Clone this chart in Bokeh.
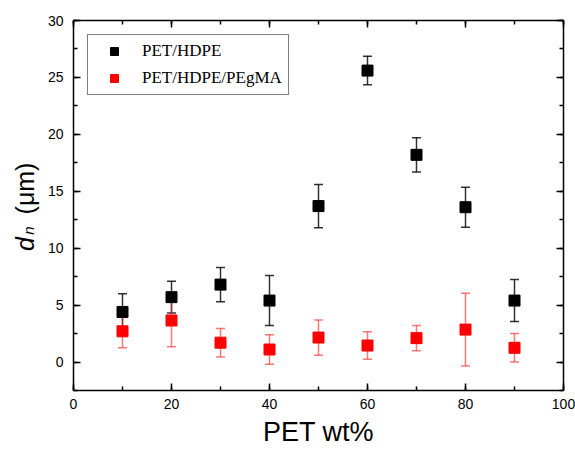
import math
from bokeh.plotting import figure
from bokeh.layouts import row
from bokeh.models import (ColumnDataSource, Whisker, TeeHead, LinearAxis,
                          SingleIntervalTicker, Range1d, CustomJSTickFormatter)
from bokeh.embed import file_html
from bokeh.resources import INLINE
from bokeh.core.properties import value

# ---- data ----
pet_wt = [10, 20, 30, 40, 50, 60, 70, 80, 90]
dn_pet_hdpe = [4.4, 5.7, 6.8, 5.4, 13.7, 25.6, 18.2, 13.6, 5.4]
err_pet_hdpe = [1.6, 1.4, 1.5, 2.2, 1.9, 1.25, 1.5, 1.75, 1.85]
dn_pet_hdpe_pegma = [2.7, 3.65, 1.7, 1.1, 2.15, 1.45, 2.1, 2.85, 1.25]
err_pet_hdpe_pegma = [1.45, 2.3, 1.25, 1.3, 1.55, 1.2, 1.1, 3.2, 1.25]
series_names = ["PET/HDPE", "PET/HDPE/PEgMA"]
x_title = "PET wt%"

src_b = ColumnDataSource(dict(x=pet_wt, y=dn_pet_hdpe,
                              upper=[v + e for v, e in zip(dn_pet_hdpe, err_pet_hdpe)],
                              lower=[v - e for v, e in zip(dn_pet_hdpe, err_pet_hdpe)]))
src_r = ColumnDataSource(dict(x=pet_wt, y=dn_pet_hdpe_pegma,
                              upper=[v + e for v, e in zip(dn_pet_hdpe_pegma, err_pet_hdpe_pegma)],
                              lower=[v - e for v, e in zip(dn_pet_hdpe_pegma, err_pet_hdpe_pegma)]))

FONT = "Liberation Sans"
H = 450
YW = 40
TOP, BOTTOM = 20, 390   # frame edges (page px); row layout aligns the frames

# ---- narrow figure holding the rotated y-axis title (rich text) ----
yfig = figure(width=YW, height=H, output_backend="svg", toolbar_location=None,
              x_range=Range1d(0, YW), y_range=Range1d(H - BOTTOM, H - TOP),
              min_border_left=0, min_border_right=0,
              min_border_top=TOP, min_border_bottom=H - BOTTOM,
              x_axis_location=None, y_axis_location=None)
yfig.grid.visible = False
yfig.outline_line_color = None
common = dict(angle=math.pi / 2, text_font=value(FONT), text_align="center",
              text_baseline="middle", text_color="black")
yfig.text(x=[24], y=[H - 243.5], text=["d"], text_font_style="italic",
          text_font_size="25px", **common)
yfig.text(x=[28], y=[H - 230], text=["n"], text_font_style="italic",
          text_font_size="15px", **common)
yfig.text(x=[24], y=[H - 188], text=["(μm)"], text_font_size="25px", **common)

# ---- main plot ----
p = figure(width=575 - YW, height=H, output_backend="svg", toolbar_location=None,
           x_range=Range1d(0, 100), y_range=Range1d(-2.5, 30),
           min_border_left=73 - YW, min_border_right=12, min_border_top=TOP,
           min_border_bottom=H - BOTTOM, x_axis_location=None, y_axis_location=None)
p.grid.visible = False
p.outline_line_color = None


def make_axis(kind, show_labels):
    ax = LinearAxis()
    if kind == "x":
        ax.ticker = SingleIntervalTicker(interval=20, num_minor_ticks=2)
    else:
        ax.ticker = SingleIntervalTicker(interval=5, num_minor_ticks=2)
    ax.axis_line_color = "black"
    ax.axis_line_width = 1.5
    ax.major_tick_line_color = "black"
    ax.minor_tick_line_color = "black"
    ax.major_tick_line_width = 1.5
    ax.minor_tick_line_width = 1.5
    ax.major_tick_out = 0
    ax.major_tick_in = 7
    ax.minor_tick_out = 0
    ax.minor_tick_in = 4
    if show_labels:
        ax.major_label_text_font = FONT
        ax.major_label_text_font_size = "14px"
        ax.major_label_text_color = "black"
        ax.major_label_standoff = 8 if kind == "x" else 10
    else:
        ax.formatter = CustomJSTickFormatter(code="return ''")
        ax.major_label_text_font_size = "14px"
        ax.major_label_standoff = 0
    return ax


xax = make_axis("x", True)
xax.axis_label = x_title
xax.axis_label_text_font = FONT
xax.axis_label_text_font_style = "normal"
xax.axis_label_text_font_size = "27px"
xax.axis_label_text_color = "black"
xax.axis_label_standoff = 5
p.add_layout(xax, "below")
p.add_layout(make_axis("y", True), "left")
p.add_layout(make_axis("x", False), "above")
p.add_layout(make_axis("y", False), "right")


def whisk(src, color, alpha):
    def head():
        return TeeHead(size=9, line_color=color, line_alpha=alpha, line_width=1.5)
    w = Whisker(source=src, base="x", upper="upper", lower="lower", dimension="height",
                line_color=color, line_alpha=alpha, line_width=1.5,
                upper_head=head(), lower_head=head())
    p.add_layout(w)


whisk(src_b, "black", 0.8)
p.scatter("x", "y", source=src_b, marker="square", size=11, fill_color="black",
          line_color="black", legend_label=series_names[0])
whisk(src_r, "#ff2020", 0.6)
p.scatter("x", "y", source=src_r, marker="square", size=11, fill_color="#ff0000",
          line_color="#ff0000", legend_label=series_names[1])

lg = p.legend[0]
lg.location = "top_left"
lg.margin = 14
lg.padding = 6
lg.spacing = 7
lg.glyph_width = 40
lg.glyph_height = 20
lg.label_standoff = 8
lg.label_height = 20
lg.label_text_font = "Liberation Serif"
lg.label_text_font_size = "17px"
lg.label_text_color = "black"
lg.border_line_color = "black"
lg.border_line_width = 1
lg.background_fill_color = "white"
lg.background_fill_alpha = 1

layout = row(yfig, p)
open("out.html", "w").write(file_html(layout, INLINE))
